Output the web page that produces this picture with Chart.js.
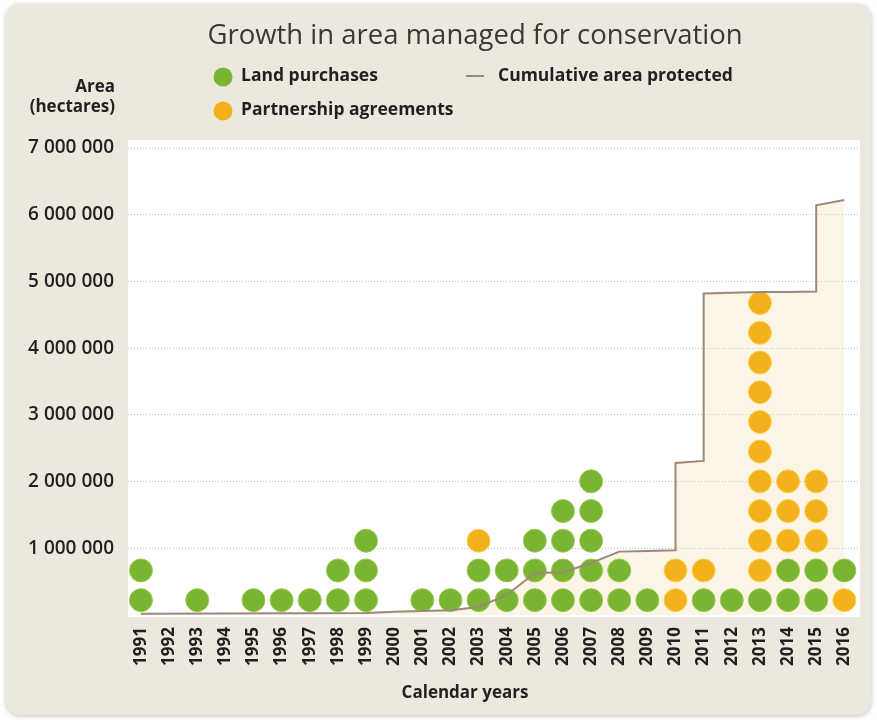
<!DOCTYPE html>
<html>
<head>
<meta charset="utf-8">
<script src="https://cdn.jsdelivr.net/npm/chart.js@4"></script>
<style>
  body { margin: 0; background: #fff; }
  #panel {
    position: absolute; left: 6px; top: 4px; width: 865px; height: 711px;
    background: #ece8de; border-radius: 14px;
    box-shadow: 0 1px 5px rgba(0, 0, 0, 0.25);
  }
  #chart { position: absolute; left: 0; top: 0; }
</style>
</head>
<body>
<div id="panel"></div>
<canvas id="chart" width="877" height="720"></canvas>
<script>
const years = [1991, 1992, 1993, 1994, 1995, 1996, 1997, 1998, 1999, 2000, 2001, 2002, 2003,
               2004, 2005, 2006, 2007, 2008, 2009, 2010, 2011, 2012, 2013, 2014, 2015, 2016];
// number of dots stacked for each year
const landPurchases = [2, 0, 1, 0, 1, 1, 1, 2, 3, 0, 1, 1, 2, 2, 3, 4, 5, 2, 1, 0, 1, 1, 1, 2, 2, 1];
const partnerships  = [0, 0, 0, 0, 0, 0, 0, 0, 0, 0, 0, 0, 1, 0, 0, 0, 0, 0, 0, 2, 1, 0, 10, 3, 3, 1];
const partnerBelow = [2016];   // years where the partnership dot sits under the purchase dot

// cumulative area (ha); repeated years are the jumps
const cumulativeYears = [1991, 1999, 2000, 2001, 2002, 2003, 2004, 2005, 2006, 2007, 2008, 2009,
                         2010, 2010, 2011, 2011, 2012, 2013, 2014, 2015, 2015, 2016];
const cumulativeArea  = [20000, 30000, 50000, 60000, 70000, 120000, 300000, 630000, 640000, 780000,
                         950000, 960000, 970000, 2280000, 2310000, 4820000, 4830000, 4840000,
                         4840000, 4850000, 6140000, 6220000];

const areaTicks = [1000000, 2000000, 3000000, 4000000, 5000000, 6000000, 7000000];

const GREEN = '#79b530';
const ORANGE = '#f3b11c';
const LINE = '#9c887a';
const INK = '#231f20';
const FACE = '"Open Sans", Lato, sans-serif';

const landPts = [];
const partnerPts = [];
years.forEach((yr, i) => {
  const g = landPurchases[i];
  const p = partnerships[i];
  const pFirst = partnerBelow.includes(yr);
  for (let k = 0; k < g; k++) landPts.push({ x: yr, y: pFirst ? p + k : k });
  for (let k = 0; k < p; k++) partnerPts.push({ x: yr, y: pFirst ? k : g + k });
});

const spaced = v => String(v).replace(/\B(?=(\d{3})+(?!\d))/g, ' ');

// white plot area, heading, legend and axis captions
const frame = {
  id: 'frame',
  beforeDraw(chart) {
    const { ctx, chartArea: a } = chart;
    ctx.save();
    ctx.fillStyle = '#fff';
    ctx.fillRect(a.left, a.top, a.right - a.left, a.bottom - a.top + 2);

    ctx.fillStyle = '#3e3738';
    ctx.textAlign = 'center';
    ctx.textBaseline = 'middle';
    ctx.font = '400 27.5px ' + FACE;
    ctx.fillText('Growth in area managed for conservation', 475, 36);

    ctx.fillStyle = INK;
    ctx.font = '700 17px ' + FACE;
    ctx.fillText('Calendar years', 465, 693);

    ctx.textAlign = 'right';
    ctx.fillText('Area', 115, 87);
    ctx.fillText('(hectares)', 115, 107);

    ctx.textAlign = 'left';
    ctx.font = '700 17.5px ' + FACE;
    ctx.fillText('Land purchases', 241, 76);
    ctx.fillText('Partnership agreements', 241, 110);
    ctx.fillText('Cumulative area protected', 498, 76);

    ctx.fillStyle = GREEN;
    ctx.beginPath(); ctx.arc(223, 77, 9.5, 0, Math.PI * 2); ctx.fill();
    ctx.fillStyle = ORANGE;
    ctx.beginPath(); ctx.arc(223, 111, 9.5, 0, Math.PI * 2); ctx.fill();

    ctx.strokeStyle = LINE;
    ctx.lineWidth = 2;
    ctx.beginPath(); ctx.moveTo(466, 76); ctx.lineTo(484, 76); ctx.stroke();
    ctx.restore();
  }
};

new Chart(document.getElementById('chart'), {
  type: 'scatter',
  data: {
    datasets: [
      {
        type: 'line',
        label: 'Cumulative area protected',
        data: cumulativeYears.map((x, i) => ({ x, y: cumulativeArea[i] })),
        yAxisID: 'y',
        borderColor: LINE,
        borderWidth: 2,
        backgroundColor: 'rgba(246, 214, 160, 0.28)',
        fill: 'origin',
        pointRadius: 0,
        tension: 0,
        order: 0
      },
      {
        label: 'Land purchases',
        data: landPts,
        yAxisID: 'dots',
        backgroundColor: GREEN,
        borderColor: '#9ccb58',
        borderWidth: 1,
        pointRadius: 11.5,
        pointHoverRadius: 11.5,
        order: 1
      },
      {
        label: 'Partnership agreements',
        data: partnerPts,
        yAxisID: 'dots',
        backgroundColor: ORANGE,
        borderColor: '#f9d35a',
        borderWidth: 1,
        pointRadius: 11.5,
        pointHoverRadius: 11.5,
        order: 1
      }
    ]
  },
  options: {
    responsive: false,
    animation: false,
    layout: { padding: { top: 140, right: 9, bottom: 0, left: 0 } },
    plugins: {
      legend: { display: false },
      tooltip: { enabled: false },
      filler: { drawTime: 'beforeDatasetsDraw' }
    },
    scales: {
      x: {
        type: 'linear',
        min: 1990.54,
        max: 2016.56,
        afterBuildTicks: s => { s.ticks = years.map(v => ({ value: v })); },
        afterFit: s => { s.height = 105; },
        ticks: {
          autoSkip: false,
          minRotation: 90,
          maxRotation: 90,
          padding: 12,
          color: INK,
          font: { family: FACE, size: 17, weight: '700' },
          callback: v => String(v)
        },
        grid: { display: false, drawTicks: false },
        border: { display: false }
      },
      y: {
        type: 'linear',
        position: 'left',
        min: 0,
        max: 7120000,
        afterBuildTicks: s => { s.ticks = areaTicks.map(v => ({ value: v })); },
        afterFit: s => { s.width = 128; },
        ticks: {
          padding: 14,
          color: INK,
          font: { family: FACE, size: 19, weight: '600' },
          callback: v => spaced(v)
        },
        grid: { color: '#c4c1bb', lineWidth: 1, drawTicks: false },
        border: { display: false, dash: [1, 2] }
      },
      dots: {
        type: 'linear',
        display: false,
        min: -0.5,
        max: 15.49
      }
    }
  },
  plugins: [frame]
});
</script>
</body>
</html>
